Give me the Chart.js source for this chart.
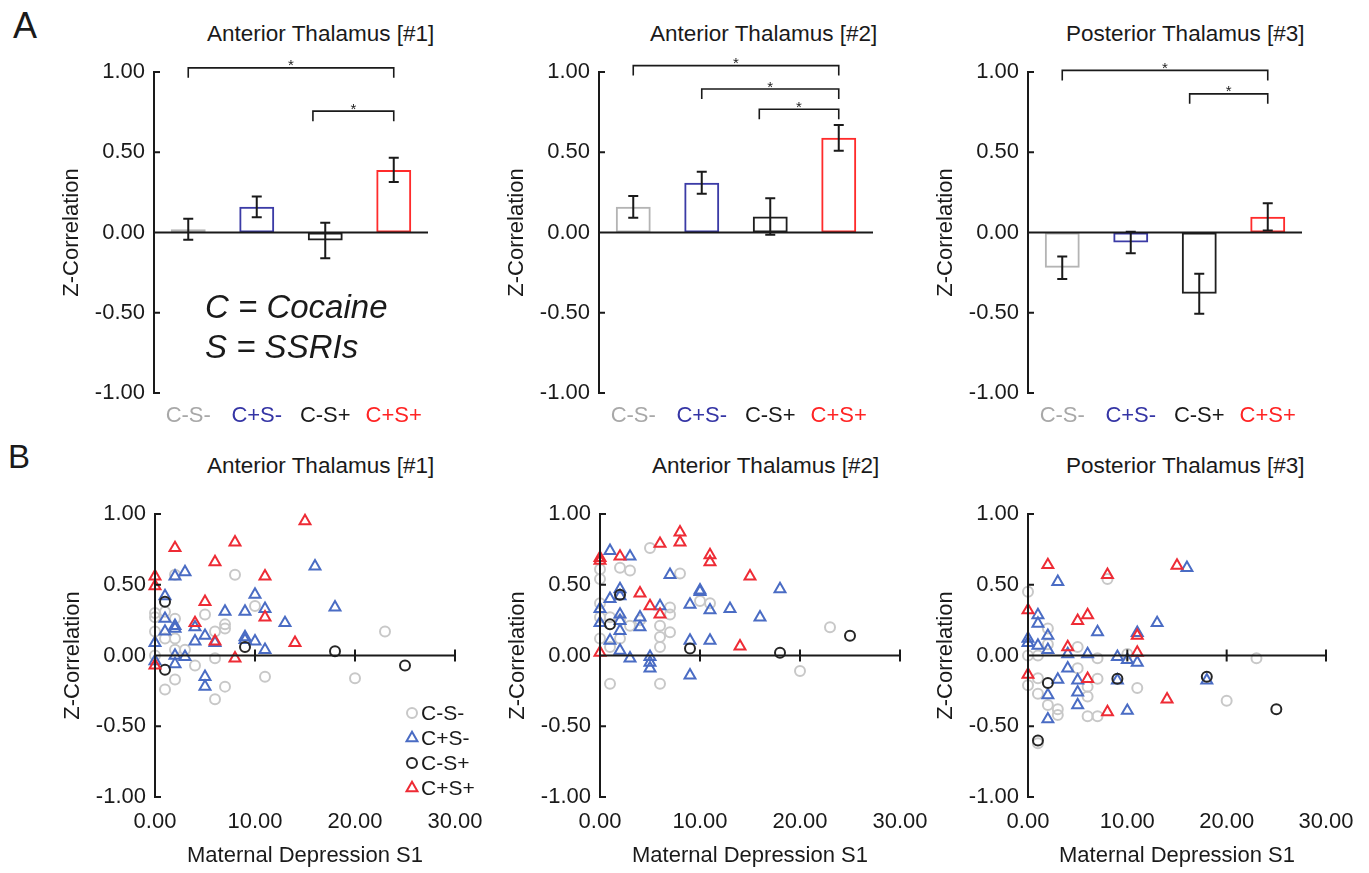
<!DOCTYPE html>
<html>
<head>
<meta charset="utf-8">
<script src="https://cdn.jsdelivr.net/npm/chart.js@4.4.0/dist/chart.umd.min.js"></script>
<style>
  body { margin: 0; background: #fff; width: 1369px; height: 873px; position: relative; overflow: hidden;
         font-family: "Liberation Sans", Arial, sans-serif; color: #1a1a1a; }
  canvas { position: absolute; }
  .lbl { position: absolute; white-space: nowrap; }
  .ttl { font-size: 22.5px; line-height: 22px; }
  .note { font-size: 33px; line-height: 33px; font-style: italic; }
</style>
</head>
<body>
<div class="lbl" style="left:13px;top:8px;font-size:36px;line-height:36px">A</div>
<div class="lbl" style="left:8px;top:440px;font-size:33px;line-height:33px">B</div>

<div class="lbl ttl" style="left:207px;top:23px">Anterior Thalamus [#1]</div>
<div class="lbl ttl" style="left:650px;top:23px">Anterior Thalamus [#2]</div>
<div class="lbl ttl" style="left:1066px;top:23px">Posterior Thalamus [#3]</div>
<div class="lbl ttl" style="left:207px;top:455px">Anterior Thalamus [#1]</div>
<div class="lbl ttl" style="left:652px;top:455px">Anterior Thalamus [#2]</div>
<div class="lbl ttl" style="left:1066px;top:455px">Posterior Thalamus [#3]</div>

<canvas id="a1" width="445" height="440" style="left:0px;top:0px"></canvas>
<canvas id="a2" width="445" height="440" style="left:445px;top:0px"></canvas>
<canvas id="a3" width="445" height="440" style="left:874px;top:0px"></canvas>
<canvas id="b1" width="490" height="433" style="left:1px;top:440px"></canvas>
<canvas id="b2" width="490" height="433" style="left:446px;top:440px"></canvas>
<canvas id="b3" width="490" height="433" style="left:874px;top:440px"></canvas>

<div class="lbl note" style="left:205px;top:290px">C = Cocaine</div>
<div class="lbl note" style="left:205px;top:330px">S = SSRIs</div>

<script>
// groups
const groups = ['C-S-', 'C+S-', 'C-S+', 'C+S+'];
const yTicks = [-1, -0.5, 0, 0.5, 1];
const xTicks = [0, 10, 20, 30];

// panel A: bar means, SEM, significance brackets [from, to, level]
const a1Means = [0.02, 0.16, -0.05, 0.39];
const a1Errs = [0.065, 0.065, 0.11, 0.075];
const a1Brackets = [[0, 3, 1.026], [1.82, 3, 0.756]];

const a2Means = [0.16, 0.31, 0.10, 0.59];
const a2Errs = [0.068, 0.068, 0.114, 0.08];
const a2Brackets = [[0, 3, 1.04], [1, 3, 0.894], [1.84, 3, 0.768]];

const a3Means = [-0.22, -0.063, -0.382, 0.098];
const a3Errs = [0.07, 0.067, 0.125, 0.085];
const a3Brackets = [[0, 3, 1.01], [1.86, 3, 0.864]];

// panel B: [maternal depression, z-correlation]
const b1CmSm = [[0,0.30],[0,0.27],[0,0.17],[0,0.00],[1,0.31],[1,0.12],[1,-0.24],[2,0.57],[2,0.26],[2,0.12],[2,0.04],[2,-0.17],
  [3,0.04],[4,-0.07],[5,0.29],[6,0.17],[6,-0.02],[6,-0.31],[7,0.22],[7,0.19],[7,-0.22],[8,0.57],[10,0.35],[11,-0.15],[20,-0.16],[23,0.17]];
const b1CpSm = [[0,0.09],[0,-0.04],[1,0.42],[1,0.26],[1,0.17],[2,0.56],[2,0.21],[2,0.19],[2,0.00],[2,-0.06],[3,0.59],[3,-0.01],
  [4,0.20],[4,0.10],[5,0.14],[5,-0.15],[5,-0.22],[6,0.09],[7,0.31],[9,0.31],[9,0.13],[9,0.11],[10,0.43],[10,0.10],[11,0.33],
  [11,0.04],[13,0.23],[16,0.63],[18,0.34]];
const b1CmSp = [[1,0.38],[1,-0.10],[9,0.06],[18,0.03],[25,-0.07]];
const b1CpSp = [[0,0.56],[0,0.49],[0,-0.07],[2,0.76],[4,0.23],[5,0.38],[6,0.66],[6,0.10],[8,0.80],[8,-0.02],[11,0.56],[11,0.27],
  [14,0.09],[15,0.95]];

const b2CmSm = [[0,0.61],[0,0.54],[0,0.37],[0,0.27],[0,0.12],[1,0.27],[1,0.06],[1,-0.20],[2,0.62],[2,0.12],[2,0.25],[3,0.60],
  [3,0.21],[4,0.25],[5,0.76],[6,0.21],[6,0.13],[6,0.06],[6,-0.20],[7,0.34],[7,0.29],[7,0.165],[8,0.58],[10,0.385],[11,0.37],
  [20,-0.11],[23,0.20]];
const b2CpSm = [[0,0.33],[0,0.23],[1,0.74],[1,0.40],[1,0.105],[2,0.47],[2,0.42],[2,0.29],[2,0.245],[2,0.175],[2,0.035],[3,0.70],
  [3,-0.02],[4,0.27],[4,0.20],[5,-0.01],[5,-0.05],[5,-0.09],[6,0.35],[7,0.57],[9,0.36],[9,0.105],[9,-0.14],[10,0.46],[10,0.45],
  [11,0.32],[11,0.105],[13,0.33],[16,0.27],[18,0.47]];
const b2CmSp = [[2,0.43],[1,0.22],[9,0.05],[18,0.02],[25,0.14]];
const b2CpSp = [[0,0.69],[0,0.67],[0,0.02],[2,0.70],[4,0.44],[5,0.35],[6,0.79],[6,0.29],[8,0.87],[8,0.80],[11,0.71],[11,0.66],
  [14,0.065],[15,0.56]];

const b3CmSm = [[0,0.45],[0,0.00],[0,-0.21],[1,0.00],[1,-0.16],[1,-0.27],[1,-0.62],[2,0.19],[2,0.08],[2,-0.35],[3,-0.38],[3,-0.42],
  [5,0.06],[5,-0.09],[6,-0.22],[6,-0.29],[6,-0.43],[7,-0.02],[7,-0.165],[7,-0.43],[8,0.54],[10,0.01],[11,-0.23],[20,-0.32],[23,-0.02]];
const b3CpSm = [[0,0.12],[0,0.09],[1,0.285],[1,0.225],[1,0.07],[2,0.14],[2,0.04],[2,-0.28],[2,-0.45],[3,0.52],[3,-0.17],[4,0.01],
  [4,-0.09],[5,-0.175],[5,-0.26],[5,-0.35],[6,0.01],[7,0.165],[9,-0.01],[9,-0.175],[10,-0.03],[10,-0.39],[11,0.16],[11,-0.05],
  [13,0.23],[16,0.62],[18,-0.175]];
const b3CmSp = [[2,-0.195],[9,-0.165],[18,-0.15],[25,-0.38],[1,-0.60]];
const b3CpSp = [[0,0.32],[0,-0.135],[2,0.64],[4,0.06],[5,0.245],[6,0.285],[6,-0.165],[8,0.57],[8,-0.40],[11,0.14],[11,0.02],
  [14,-0.31],[15,0.635]];

const ink = '#1a1a1a';
const barEdge = ['#b4b4b4', '#3b3ba6', '#1f1f1f', '#ff2b2b'];
const labelColors = ['#a8a8a8', '#3535a5', '#1a1a1a', '#ff2424'];
const markColor = ['#c8c8c8', '#4a6cc4', '#262626', '#ee2b35'];
const markStyle = ['circle', 'triangle', 'circle', 'triangle'];
const markRadius = [5, 6.3, 5, 6.3];

Chart.defaults.font.family = '"Liberation Sans", Arial, sans-serif';
Chart.defaults.color = ink;

// axis lines drawn at the zero positions, ticks pointing inward
function axesPlugin(scatter) {
  return {
    id: 'panelAxes',
    afterDatasetsDraw(chart) {
      const { ctx, chartArea, scales: { x, y } } = chart;
      const x0 = scatter ? x.getPixelForValue(0) : chartArea.left;
      const xEnd = scatter ? x.getPixelForValue(30) : chartArea.right;
      const y0 = y.getPixelForValue(0);
      ctx.save();
      ctx.strokeStyle = ink;
      ctx.lineWidth = 2;
      ctx.beginPath();
      ctx.moveTo(x0, y.getPixelForValue(1));
      ctx.lineTo(x0, y.getPixelForValue(-1));
      yTicks.forEach(v => {
        const py = y.getPixelForValue(v);
        ctx.moveTo(x0 - 1, py);
        ctx.lineTo(x0 + 6, py);
      });
      ctx.moveTo(x0, y0);
      ctx.lineTo(xEnd, y0);
      if (scatter) {
        xTicks.slice(1).forEach(v => {
          const px = x.getPixelForValue(v);
          ctx.moveTo(px, y0 - 6);
          ctx.lineTo(px, y0 + 6);
        });
      }
      ctx.stroke();
      ctx.restore();
    }
  };
}

function barExtras(errs, brackets) {
  return {
    id: 'barExtras',
    afterDatasetsDraw(chart) {
      const { ctx, scales: { x, y } } = chart;
      const means = chart.data.datasets[0].data;
      ctx.save();
      ctx.strokeStyle = ink;
      ctx.lineWidth = 2;
      ctx.beginPath();
      means.forEach((m, i) => {
        const px = x.getPixelForValue(i);
        const top = y.getPixelForValue(m + errs[i]);
        const bot = y.getPixelForValue(m - errs[i]);
        ctx.moveTo(px, top); ctx.lineTo(px, bot);
        ctx.moveTo(px - 5, top); ctx.lineTo(px + 5, top);
        ctx.moveTo(px - 5, bot); ctx.lineTo(px + 5, bot);
      });
      ctx.stroke();

      ctx.lineWidth = 1.6;
      ctx.fillStyle = ink;
      ctx.font = '15px "Liberation Sans", Arial, sans-serif';
      ctx.textAlign = 'center';
      ctx.textBaseline = 'alphabetic';
      brackets.forEach(([from, to, level]) => {
        const xa = x.getPixelForValue(from);
        const xb = x.getPixelForValue(to);
        const py = y.getPixelForValue(level);
        ctx.beginPath();
        ctx.moveTo(xa, py + 10);
        ctx.lineTo(xa, py);
        ctx.lineTo(xb, py);
        ctx.lineTo(xb, py + 10);
        ctx.stroke();
        ctx.fillText('*', (xa + xb) / 2, py + 2.5);
      });
      ctx.restore();
    }
  };
}

const legendPlugin = {
  id: 'groupLegend',
  afterDraw(chart) {
    const { ctx, chartArea } = chart;
    ctx.save();
    ctx.font = '21px "Liberation Sans", Arial, sans-serif';
    ctx.textBaseline = 'middle';
    ctx.textAlign = 'left';
    groups.forEach((g, i) => {
      const mx = chartArea.right - 43;
      const my = chartArea.bottom - 84 + i * 25;
      const r = markRadius[i];
      ctx.strokeStyle = markColor[i];
      ctx.lineWidth = 2;
      ctx.beginPath();
      if (markStyle[i] === 'circle') {
        ctx.arc(mx, my, r, 0, Math.PI * 2);
      } else {
        ctx.moveTo(mx, my - r);
        ctx.lineTo(mx + r * 0.866, my + r / 2);
        ctx.lineTo(mx - r * 0.866, my + r / 2);
        ctx.closePath();
      }
      ctx.stroke();
      ctx.fillStyle = ink;
      ctx.fillText(g, mx + 9, my + 1);
    });
    ctx.restore();
  }
};

function yScale(width) {
  return {
    min: -1, max: 1,
    grid: { display: false }, border: { display: false },
    ticks: { stepSize: 0.5, callback: v => v.toFixed(2), font: { size: 22 }, padding: 1, color: ink },
    title: { display: true, text: 'Z-Correlation', font: { size: 22 }, color: ink, padding: { top: 4, bottom: 4 } },
    afterFit: s => { s.width = width; }
  };
}

function barChart(id, means, errs, brackets) {
  new Chart(document.getElementById(id), {
    type: 'bar',
    data: {
      labels: groups,
      datasets: [{
        data: means,
        borderColor: barEdge,
        backgroundColor: 'rgba(255,255,255,0)',
        borderWidth: 2,
        borderSkipped: false,
        categoryPercentage: 0.51,
        barPercentage: 1
      }]
    },
    options: {
      responsive: false, animation: false, devicePixelRatio: 1,
      layout: { padding: { left: 55, top: 72, right: 17, bottom: 0 } },
      plugins: { legend: { display: false }, tooltip: { enabled: false } },
      scales: {
        x: {
          offset: true,
          grid: { display: false }, border: { display: false },
          ticks: { color: c => labelColors[c.index], font: { size: 22 }, padding: 2 },
          afterFit: s => { s.height = 47; }
        },
        y: yScale(99)
      }
    },
    plugins: [axesPlugin(false), barExtras(errs, brackets)]
  });
}

function scatterChart(id, sets, plotWidth, withLegend) {
  const plugins = [axesPlugin(true)];
  if (withLegend) plugins.push(legendPlugin);
  new Chart(document.getElementById(id), {
    type: 'scatter',
    data: {
      datasets: sets.map((pts, i) => ({
        label: groups[i],
        data: pts.map(p => ({ x: p[0], y: p[1] })),
        pointStyle: markStyle[i],
        pointRadius: markRadius[i],
        pointBorderWidth: 2,
        pointBorderColor: markColor[i],
        pointBackgroundColor: 'rgba(0,0,0,0)',
        clip: false,
        order: 4 - i
      }))
    },
    options: {
      responsive: false, animation: false, devicePixelRatio: 1,
      layout: { padding: { left: 55, top: 74, right: 490 - 154 - plotWidth, bottom: 0 } },
      plugins: { legend: { display: false }, tooltip: { enabled: false } },
      scales: {
        x: {
          type: 'linear', min: 0, max: 30,
          grid: { display: false }, border: { display: false },
          ticks: { stepSize: 10, callback: v => v.toFixed(2), font: { size: 22 }, padding: 4, color: ink },
          title: { display: true, text: 'Maternal Depression S1', font: { size: 22 }, color: ink, padding: { top: 4, bottom: 4 } },
          afterFit: s => { s.height = 76; }
        },
        y: yScale(99)
      }
    },
    plugins: plugins
  });
}

barChart('a1', a1Means, a1Errs, a1Brackets);
barChart('a2', a2Means, a2Errs, a2Brackets);
barChart('a3', a3Means, a3Errs, a3Brackets);
scatterChart('b1', [b1CmSm, b1CpSm, b1CmSp, b1CpSp], 300, true);
scatterChart('b2', [b2CmSm, b2CpSm, b2CmSp, b2CpSp], 300, false);
scatterChart('b3', [b3CmSm, b3CpSm, b3CmSp, b3CpSp], 298, false);
</script>
</body>
</html>
